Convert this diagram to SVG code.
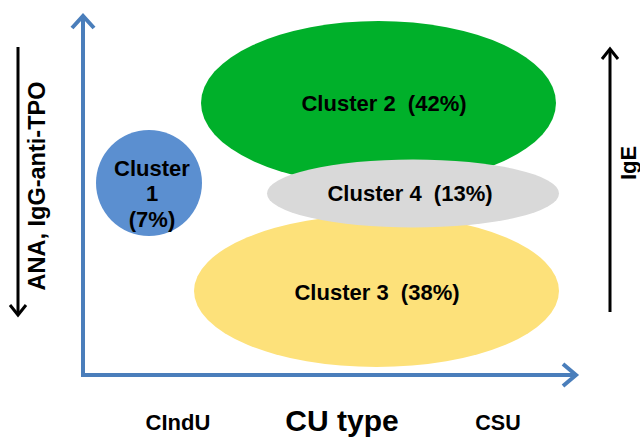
<svg xmlns="http://www.w3.org/2000/svg" width="640" height="441" viewBox="0 0 640 441">
<defs>
<style>
text{font-family:"Liberation Sans",Arial,sans-serif;font-weight:bold;fill:#000;text-anchor:middle;white-space:pre}
.lbl{font-size:22px}
.axis{stroke:#4a7ebb;stroke-width:4;fill:none}
.blk{stroke:#000;stroke-width:3;fill:none}
</style>
</defs>
<rect width="640" height="441" fill="#fff"/>
<g id="cluster2"><ellipse cx="378.5" cy="103" rx="177.5" ry="82" fill="#00b02a"/><text class="lbl" x="384" y="111" xml:space="preserve">Cluster 2  (42%)</text></g>
<g id="cluster3"><ellipse cx="376.5" cy="291" rx="182.5" ry="76" fill="#fde17a"/><text class="lbl" x="377" y="300" xml:space="preserve">Cluster 3  (38%)</text></g>
<g id="cluster4"><ellipse cx="413" cy="193.5" rx="146" ry="34" fill="#d9d9d9"/><text class="lbl" x="410" y="201" xml:space="preserve">Cluster 4  (13%)</text></g>
<g id="cluster1"><circle cx="149" cy="183" r="53" fill="#5b8fd0"/><text class="lbl" x="152" y="176">Cluster</text><text class="lbl" x="152" y="201">1</text><text class="lbl" x="152" y="227">(7%)</text></g>
<g id="connectors">
<path class="axis" d="M83 17 V375 H575"/>
<path class="axis" d="M72 28 L83 16 L94 28"/>
<path class="axis" d="M563 364 L576 375 L563 386"/>
<path class="blk" d="M18 47 V314"/>
<path class="blk" d="M10 305 L18 315 L26 305"/>
<path class="blk" d="M610 50 V312"/>
<path class="blk" d="M602 59 L610 49 L618 59"/>
</g>
<g id="labels">
<text transform="translate(45 186) rotate(-90)" style="font-size:23.5px">ANA, IgG-anti-TPO</text>
<text class="lbl" transform="translate(636 163) rotate(-90)">IgE</text>
<text x="178" y="430" style="font-size:22px">CIndU</text>
<text x="342" y="431" style="font-size:30px">CU type</text>
<text x="498" y="430" style="font-size:21.5px">CSU</text>
</g>
</svg>
